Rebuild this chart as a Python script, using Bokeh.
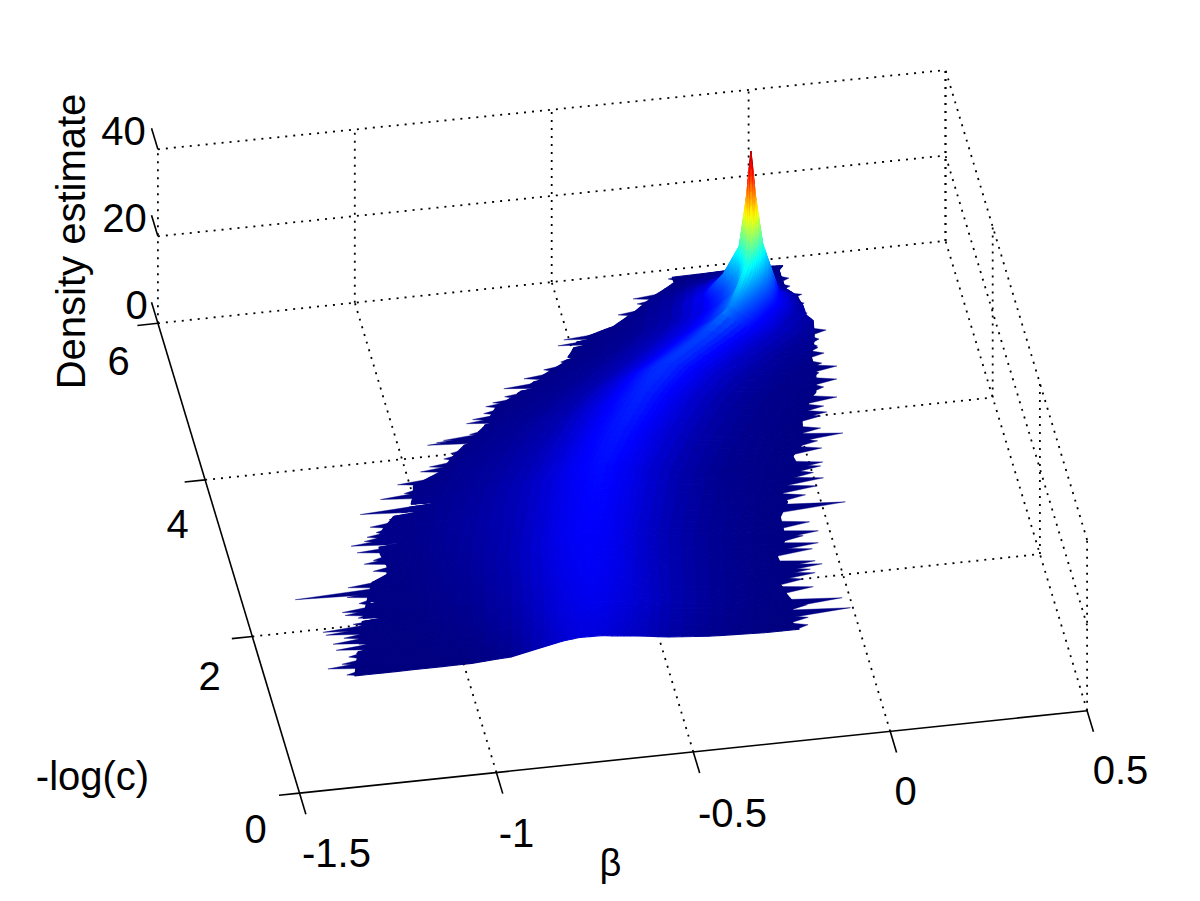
import numpy as np
from bokeh.plotting import figure
from bokeh.models import Range1d
from bokeh.core.properties import value
from bokeh.embed import file_html
from bokeh.resources import INLINE

# ---------- axis content ----------
beta_ticks = [-1.5, -1.0, -0.5, 0.0, 0.5]
beta_labels = ["-1.5", "-1", "-0.5", "0", "0.5"]
logc_ticks = [0, 2, 4, 6]
logc_labels = ["0", "2", "4", "6"]
dens_ticks = [0, 20, 40]
dens_labels = ["0", "20", "40"]
x_title = "\u03b2"
y_title = "-log(c)"
z_title = "Density estimate"
dens_max = 37.0

# ---------- outline of the estimate ----------
left_body_c = [1.38,1.57,1.85,2.033,2.334,2.502,2.581,2.68,2.838,3.027,3.142,3.278,3.379,3.512,3.635,3.773,3.954,4.064,4.273,4.504,
               4.67,4.85,4.973,5.087,5.239,5.352,5.499,5.671,5.82,5.90]
left_body_beta = [-1.277,-1.26,-1.236,-1.219,-1.186,-1.166,-1.123,-1.117,-1.125,-1.121,-1.099,-1.065,-1.016,-1.0,-0.993,-0.916,-0.872,-0.84,-0.776,-0.732,
                  -0.659,-0.589,-0.531,-0.506,-0.479,-0.381,-0.321,-0.26,-0.20,-0.20]
left_slit_c = [1.69,1.75,2.058,2.257,2.942,3.303,3.388,4.092,4.195,4.315,4.44,4.627,4.693,4.79,5.018,5.168,5.237]
left_slit_beta = [-1.223,-1.216,-1.147,-1.16,-1.058,-0.993,-0.937,-0.82,-0.768,-0.736,-0.718,-0.648,-0.606,-0.595,-0.498,-0.443,-0.429]
left_tip_c = [1.40,1.50,1.54,1.62,1.658,1.72,1.80,1.86,1.92,1.958,1.96,2.02,2.09,2.14,2.18,2.27,2.36,2.40,2.48,2.65,2.75,2.785,2.90,2.99,3.03,
              3.08,3.127,3.20,3.27,3.37,3.53,3.573,3.69,3.72,3.82,3.87,3.95,4.01,4.14,4.16,4.18,4.22,4.357,4.40,4.46,4.543,4.582,4.642,4.742,4.839,4.924,
              5.00,5.203,5.269,5.508,5.619,5.686,5.888]
left_tip_beta = [-1.296,-1.338,-1.30,-1.278,-1.257,-1.304,-1.307,-1.276,-1.318,-1.247,-1.323,-1.243,-1.226,-1.256,-1.261,-1.213,-1.238,-1.367,-1.228,-1.154,-1.171,-1.146,-1.18,-1.19,-1.154,
                 -1.144,-1.118,-1.129,-1.076,-1.144,-1.083,-1.02,-1.03,-0.939,-0.964,-0.938,-0.897,-0.876,-0.927,-0.903,-0.884,-0.815,-0.815,-0.797,-0.765,-0.755,-0.735,-0.701,-0.697,-0.64,-0.585,
                 -0.537,-0.532,-0.513,-0.361,-0.306,-0.312,-0.211]
right_body_c = [1.38,1.527,1.691,1.812,1.958,2.087,2.295,2.507,2.62,2.786,2.962,3.067,3.184,3.355,3.524,3.671,3.832,3.944,4.085,4.195,
                4.285,4.533,4.724,4.894,5.017,5.13,5.188,5.315,5.446,5.548,5.803,5.842,5.90]
right_body_beta = [-0.148,-0.168,-0.14,-0.153,-0.162,-0.141,-0.149,-0.116,-0.114,-0.112,-0.083,-0.09,-0.07,-0.029,-0.036,-0.002,0.007,0.012,0.035,0.045,
                   0.068,0.083,0.082,0.10,0.107,0.112,0.097,0.097,0.092,0.068,0.068,0.068,0.081]
right_tip_c = [1.426,1.517,1.582,1.675,1.716,1.89,1.998,2.061,2.112,2.162,2.209,2.361,2.428,2.534,2.576,2.698,2.899,3.037,3.133,3.224,3.303,3.376,3.423,3.597,3.69,3.733,3.755,3.845,3.994,4.036,4.114,4.209,
               4.35,4.431,4.532,4.592,4.648,4.769,4.844,4.864,4.949,5.051,5.286,5.413,5.526,5.642,5.742]
right_tip_beta = [-0.123,-0.117,-0.006,-0.11,-0.019,-0.082,-0.101,-0.067,-0.076,-0.043,-0.058,-0.056,-0.037,-0.069,-0.028,-0.043,0.06,-0.033,0.003,0.024,0.003,0.026,0.034,0.042,0.037,0.034,0.105,0.054,0.063,0.081,0.078,0.117,
                  0.092,0.13,0.091,0.14,0.105,0.118,0.107,0.107,0.116,0.14,0.106,0.106,0.107,0.084,0.087]

# ---------- ridge of the density and its height around the ridge ----------
row_c = [1.38,1.8,2.2,2.6,3.0,3.4,3.8,4.2,4.5,4.8,5.0,5.2,5.3,5.4,5.5,5.6,5.75,5.9]
ridge_beta = [-0.68,-0.65,-0.63,-0.61,-0.57,-0.53,-0.46,-0.38,-0.30,-0.18,-0.10,-0.05,-0.035,-0.03,-0.02,-0.01,0.0,0.01]
offset = [-0.9,-0.45,-0.3,-0.2,-0.12,-0.07,-0.03,-0.012,0,0.012,0.03,0.07,0.12,0.2,0.3,0.45,0.9]
dens_1 = [0,0,0.05,0.6,2.1,3.0,3.4,3.4,3.4,3.4,3.3,2.9,2.4,1.4,0.6,0.05,0]
dens_2 = [0,0.1,0.5,1.3,2.7,3.5,3.9,4,4,4,3.9,3.5,2.9,1.8,0.8,0.2,0]
dens_3 = [0,0.2,0.8,1.6,3,3.8,4.2,4.3,4.3,4.3,4.2,3.8,3.0,1.8,0.8,0.2,0]
dens_4 = [0,0.3,1,1.8,3.2,4,4.4,4.5,4.5,4.5,4.4,4,3.1,1.8,0.8,0.2,0]
dens_5 = [0,0.5,1.3,2,3.3,4.1,4.5,4.7,4.7,4.7,4.5,4.0,3.1,1.7,0.7,0.2,0]
dens_6 = [0,0.5,1.2,2.1,3.4,4.3,4.8,5,5,5,4.7,4.1,3.1,1.6,0.6,0.2,0]
dens_7 = [0,0.4,1.1,2,3.4,4.5,5.1,5.3,5.4,5.3,5.0,4.2,3,1.5,0.6,0.1,0]
dens_8 = [0,0.3,0.9,1.8,3.5,4.7,5.5,5.8,5.9,5.8,5.4,4.4,3,1.4,0.5,0.1,0]
dens_9 = [0,0.2,0.7,1.7,3.5,5,6,6.3,6.4,6.3,5.8,4.6,3,1.3,0.5,0.1,0]
dens_10 = [0,0.2,0.8,2.0,3.8,5.2,6.3,6.9,7.1,6.9,6.2,4.4,2.5,1.0,0.4,0.1,0]
dens_11 = [0,0.1,0.8,2.2,4,5.5,7.2,8.5,9.8,8.5,7,4.6,2.5,0.8,0.3,0.1,0]
dens_12 = [0,0.1,0.7,1.9,3.9,6,9,12,16,12,9,5,2,0.5,0.2,0.1,0]
dens_13 = [0,0.1,0.6,1.7,4.2,7,11,17,24,17,11,4.5,1.5,0.4,0.1,0.05,0]
dens_14 = [0,0.1,0.5,1.5,4.5,9,15,26,37,26,15,4,1,0.3,0.1,0.05,0]
dens_15 = [0,0.1,0.4,1.4,3.8,7,11,16,21,16,8,2,0.6,0.2,0.1,0,0]
dens_16 = [0,0,0.2,1.2,3,5,6.5,8,9,6,3,0.8,0.3,0.1,0.05,0,0]
dens_17 = [0,0,0.1,0.4,1.2,2,2.4,2.5,2.6,1.8,1,0.3,0.1,0.05,0,0,0]
dens_18 = [0,0,0,0.1,0.2,0.3,0.4,0.5,0.5,0.4,0.3,0.1,0.05,0,0,0,0]
dens_table = np.array([dens_1,dens_2,dens_3,dens_4,dens_5,dens_6,dens_7,dens_8,dens_9,
                       dens_10,dens_11,dens_12,dens_13,dens_14,dens_15,dens_16,dens_17,dens_18], float)

# ---------- the view: an orthographic camera onto the box ----------
def project(beta, c, z=0.0):
    u = np.asarray(beta, float) + 1.5
    c = np.asarray(c, float)
    z = np.asarray(z, float)
    return 299 + 393.8*u - 23.6*c, 792.6 - 41.2*u - 78.3*c - (4.35 - 0.04*u)*z

def jet(v):
    v = float(np.clip(v, 0, 1))
    r = np.clip(min(4*v - 1.5, -4*v + 4.5), 0, 1)
    g = np.clip(min(4*v - 0.5, -4*v + 3.5), 0, 1)
    b = np.clip(min(4*v + 0.5, -4*v + 2.5), 0, 1)
    return "#%02x%02x%02x" % (int(r*255), int(g*255), int(b*255))

W, H = 1184, 885
p = figure(width=W, height=H, x_range=Range1d(0, W), y_range=Range1d(H, 0),
           output_backend="svg", toolbar_location=None, min_border=0,
           outline_line_color=None, background_fill_color="white", border_fill_color="white")
p.xaxis.visible = False
p.yaxis.visible = False
p.grid.visible = False

# ---------- dotted walls and floor ----------
bmin, bmax = beta_ticks[0], beta_ticks[-1]
cmin, cmax = logc_ticks[0], logc_ticks[-1]
zmin, zmax = dens_ticks[0], dens_ticks[-1]
gx, gy = [], []
def seg(a, b):
    xa, ya = project(*a); xb, yb = project(*b)
    gx.append([float(xa), float(xb)]); gy.append([float(ya), float(yb)])
for b in beta_ticks[1:]:
    seg((b, cmin, 0), (b, cmax, 0))
for c in logc_ticks[1:]:
    seg((bmin, c, 0), (bmax, c, 0))
for b in beta_ticks:
    seg((b, cmax, zmin), (b, cmax, zmax))
for c in logc_ticks:
    seg((bmax, c, zmin), (bmax, c, zmax))
for z in dens_ticks[1:]:
    seg((bmin, cmax, z), (bmax, cmax, z))
    seg((bmax, cmin, z), (bmax, cmax, z))
p.multi_line(gx, gy, line_color="black", line_width=1.8, line_dash="2 6")

# ---------- solid axes and ticks ----------
ax, ay = [], []
def solid(a, b):
    xa, ya = project(*a); xb, yb = project(*b)
    ax.append([float(xa), float(xb)]); ay.append([float(ya), float(yb)])
solid((bmin, cmin, 0), (bmax, cmin, 0))
solid((bmin, cmin, 0), (bmin, cmax, 0))
for b in beta_ticks:
    solid((b, cmin, 0), (b, cmin - 0.27, 0))
for c in logc_ticks:
    solid((bmin, c, 0), (bmin - 0.052, c, 0))
for z in dens_ticks:
    solid((bmin, cmax, z), (bmin, cmax + 0.27, z))
p.multi_line(ax, ay, line_color="black", line_width=1.6)

# ---------- the surface, drawn back to front ----------
SLIT = 0.02   # half height of an inward notch, in -log(c)

def left_at(c):
    edge = np.interp(c, left_body_c, left_body_beta)
    out = edge
    for sc, sb in zip(left_slit_c, left_slit_beta):
        t = abs(c - sc) / SLIT
        if t < 1:
            out = max(out, sb + t * (edge - sb))
    return out

def right_at(c):
    return np.interp(c, right_body_c, right_body_beta)

slit_rows = np.concatenate([[s - SLIT, s, s + SLIT] for s in left_slit_c])
rows = np.unique(np.round(np.concatenate([left_body_c, right_body_c, row_c, slit_rows,
                                          np.arange(1.38, 5.0, 0.06), np.arange(5.0, 5.72, 0.012)]), 3))
rows = rows[(rows >= 1.38) & (rows <= 5.90)]

def col_grid(step_near):
    parts = []
    for i in range(len(offset)-1):
        a, b = offset[i], offset[i+1]
        st = step_near if abs(a) < 0.13 and abs(b) < 0.13 else 0.04
        parts.append(np.linspace(a, b, max(2, int(np.ceil((b-a)/st))+1))[:-1])
    return np.concatenate(parts + [[offset[-1]]])
coarse = col_grid(0.02)
fine = col_grid(0.004)

def row_vertices(c, d_list):
    lo, hi = left_at(c), right_at(c)
    rid = np.interp(c, row_c, ridge_beta)
    col = np.array([np.interp(c, row_c, dens_table[:, j]) for j in range(len(offset))])
    b = np.clip(rid + d_list, lo, hi)
    return b, np.interp(b - rid, offset, col)

xs, ys, colors = [], [], []
for i in range(len(rows)-2, -1, -1):
    c0, c1 = rows[i], rows[i+1]
    dl = fine if c1 > 4.95 else coarse
    b0, z0 = row_vertices(c0, dl)
    b1, z1 = row_vertices(c1, dl)
    x0, y0 = project(b0, c0, z0)
    x1, y1 = project(b1, c1, z1)
    for j in sorted(range(len(dl)-1), key=lambda k: -abs(dl[k])):
        if b0[j+1]-b0[j] < 1e-6 and b1[j+1]-b1[j] < 1e-6:
            continue
        xs.append([float(x0[j]), float(x0[j+1]), float(x1[j+1]), float(x1[j])])
        ys.append([float(y0[j]), float(y0[j+1]), float(y1[j+1]), float(y1[j])])
        colors.append(jet((z0[j]+z0[j+1]+z1[j]+z1[j+1])/4/dens_max))

# spikes of the outline: thin flat triangles, near zero density
navy = jet(0.004)
sx, sy = [], []
def spikes(tip_c, tip_b, edge, half):
    for tc, tb in zip(tip_c, tip_b):
        lo_c = max(tc - half, 1.38)
        hi_c = min(tc + half, 5.90)
        px, py = project([tb, edge(lo_c) + 0.01, edge(hi_c) + 0.01], [tc, lo_c, hi_c], 0.0)
        sx.append([float(v) for v in px]); sy.append([float(v) for v in py])
spikes(left_tip_c, left_tip_beta, left_at, 0.036)
def right_inner(c):
    return right_at(c) - 0.02
spikes(right_tip_c, right_tip_beta, right_inner, 0.05)
p.patches(sx, sy, fill_color=navy, line_color=navy, line_width=0.4)
p.patches(xs, ys, fill_color=colors, line_color=colors, line_width=1.1)

# ---------- texts ----------
font = value("Liberation Sans")
def label(x, y, s, size="40px", angle=0.0):
    p.text([x], [y], text=[s], text_font=font, text_font_size=value(size), text_color="black",
           text_align="center", text_baseline="middle", angle=angle)

for s, pos in zip(beta_labels, [(336,852),(516,832),(732,812),(905,790),(1120,769)]):
    label(pos[0], pos[1], s)
for s, pos in zip(logc_labels, [(255,828),(209,675),(177,523),(118,360)]):
    label(pos[0], pos[1], s)
for s, pos in zip(dens_labels, [(136,304),(124,217),(123,130)]):
    label(pos[0], pos[1], s)
label(92, 775, y_title)
label(610, 862, x_title, size="38px")
label(70, 241, z_title, angle=np.pi/2)

open("out.html", "w").write(file_html(p, INLINE))
